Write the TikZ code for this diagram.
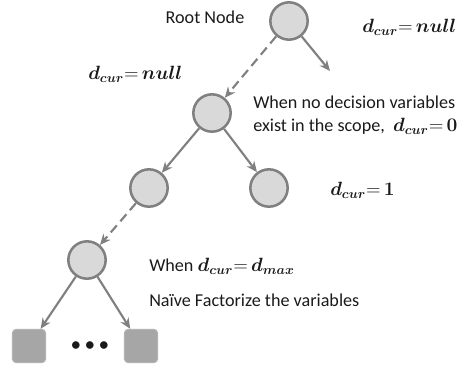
\documentclass[tikz,border=0pt]{standalone}
\usepackage{fontspec}
\usepackage{amsmath,bm}
\setmainfont{Carlito}
\usetikzlibrary{arrows.meta}
\definecolor{edgegray}{HTML}{808080}
\definecolor{nodefill}{HTML}{D9D9D9}
\definecolor{leaffill}{HTML}{A6A6A6}
\definecolor{txt}{HTML}{1A1A1A}
% d_cur followed by a tight equals sign
\newcommand{\dcureq}{\bm{d_{cur}}{=}\,}
\begin{document}
\begin{tikzpicture}[x=0.75pt,y=-0.75pt,
  tnode/.style={circle,draw=edgegray,fill=nodefill,line width=1.9pt,minimum size=28pt,inner sep=0pt},
  leaf/.style={rectangle,rounded corners=3pt,draw=leaffill!85!white,fill=leaffill,line width=0.8pt,minimum size=25pt,inner sep=0pt},
  link/.style={draw=edgegray,line width=1.6pt,-{Stealth[length=8pt,width=7pt]}},
  dlink/.style={link,dash pattern=on 7pt off 4pt},
  lbl/.style={text=txt,font=\fontsize{13.6}{17}\selectfont,inner sep=0pt},
]
\useasboundingbox (0,0) rectangle (459,369);

% tree nodes
\node[tnode] (root) at (289,21) {};
\node[tnode] (n1)   at (212,113) {};
\node[tnode] (n2l)  at (149,188) {};
\node[tnode] (n2r)  at (269,188) {};
\node[tnode] (n3)   at (87,260) {};
\node[leaf]  (leafl) at (29,346) {};
\node[leaf]  (leafr) at (141,346) {};
\node[text=txt,font=\fontsize{16}{16}\selectfont,inner sep=0pt] (dots) at (90,347)
  {\textbullet\hspace{2.5pt}\textbullet\hspace{2.5pt}\textbullet};
\coordinate (open) at (330,71);

% connectors
\draw[link]  (root) -- (open);
\draw[dlink] (root) -- (n1);
\draw[link]  (n1) -- (n2l);
\draw[link]  (n1) -- (n2r);
\draw[dlink] (n2l) -- (n3);
\draw[link]  (n3) -- (leafl);
\draw[link]  (n3) -- (leafr);

% labels
\node[lbl] (rootlbl) at (205,17) {Root Node};
\node[lbl,anchor=west] (dnullr) at (362,27) {$\dcureq\bm{null}$};
\node[lbl,anchor=west] (dnulll) at (88,74) {$\dcureq\bm{null}$};
\node[lbl,anchor=west] (nodec1) at (253,102) {When no decision variables};
\node[lbl,anchor=west] (nodec2) at (253,126) {exist in the scope,\ \ $\dcureq\bm{0}$};
\node[lbl,anchor=west] (done) at (330,190) {$\dcureq\bm{1}$};
\node[lbl,anchor=west] (dmax) at (149,266) {When $\dcureq\bm{d_{max}}$};
\node[lbl,anchor=west] (naive) at (149,300) {Naïve Factorize the variables};
\end{tikzpicture}
\end{document}
